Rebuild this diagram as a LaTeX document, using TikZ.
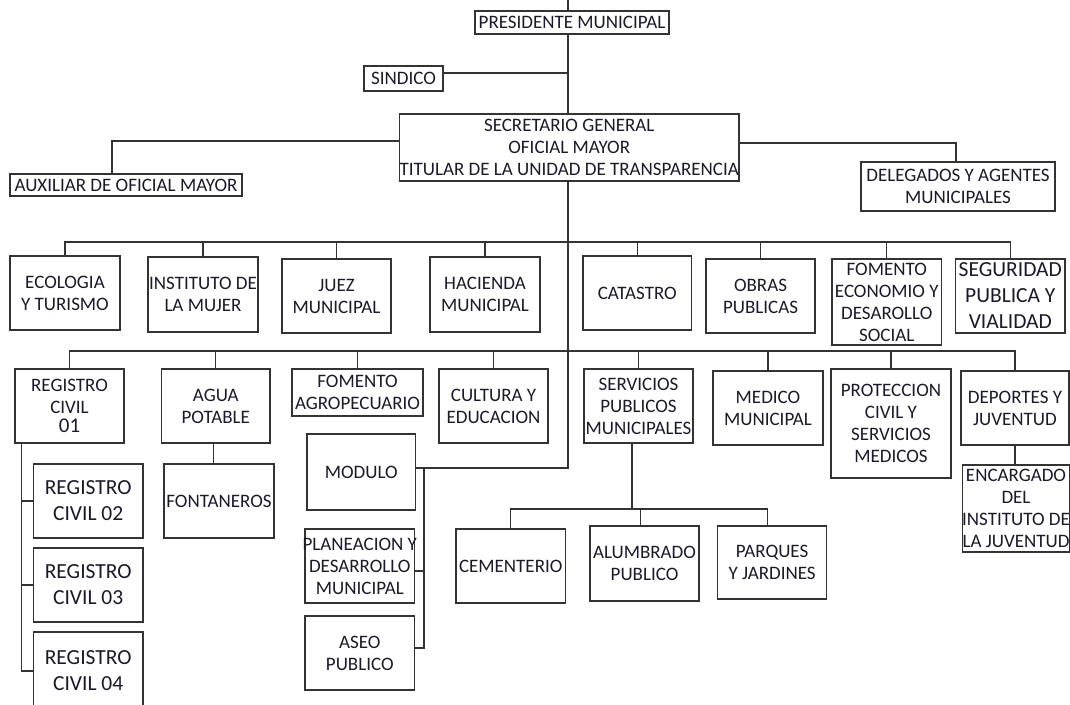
\documentclass[tikz,border=0pt]{standalone}
\usepackage{fontspec}
\setmainfont{Carlito}
\definecolor{ln}{HTML}{333333}
\definecolor{tx}{HTML}{1A1A2A}
\tikzset{
  box/.style={draw=ln, line width=1.2pt, inner sep=0pt, align=center, fill=white,
    text=tx, font=\fontsize{19}{22}\selectfont},
  bigbox/.style={box, font=\fontsize{21.5}{26}\selectfont},
  conn/.style={draw=ln, line width=1.2pt},
}
\newcommand{\bx}[6][box]{\node[#1, minimum width=#4pt, minimum height=#5pt] (#2) at #3 {#6};}
\newcommand{\ov}[1]{\makebox[0pt]{#1}}
\begin{document}
\begin{tikzpicture}[x=1pt,y=-1pt]
\useasboundingbox[fill=white] (0,0) rectangle (1070,704);
% top level
\bx{pres}{(572,22.5)}{194}{23}{PRESIDENTE MUNICIPAL}
\bx{sind}{(403.5,78.5)}{79}{25}{SINDICO}
\bx{sec}{(569.25,147.5)}{339.5}{67}{SECRETARIO GENERAL\\OFICIAL MAYOR\\\ov{TITULAR DE LA UNIDAD DE TRANSPARENCIA}}
\bx{aux}{(126,185)}{232}{22}{AUXILIAR DE OFICIAL MAYOR}
\bx{del}{(958,186.5)}{194}{49}{DELEGADOS Y AGENTES\\MUNICIPALES}
% row 1
\bx{ecol}{(65,293)}{110}{74}{ECOLOGIA\\Y TURISMO}
\bx{inst}{(203,294.5)}{110}{75}{INSTITUTO DE\\LA MUJER}
\bx{juez}{(336.5,296)}{109}{74}{JUEZ\\MUNICIPAL}
\bx{haci}{(485,294.5)}{110}{75}{HACIENDA\\MUNICIPAL}
\bx{cata}{(637.25,293)}{108.5}{74}{CATASTRO}
\bx{obra}{(760.5,296)}{109}{74}{OBRAS\\PUBLICAS}
\bx{fome}{(886.75,302)}{109.5}{86}{FOMENTO\\ECONOMIO Y\\DESAROLLO\\SOCIAL}
\bx[bigbox]{segu}{(1010.3,296)}{109.4}{74}{SEGURIDAD\\PUBLICA Y\\VIALIDAD}
% row 2
\bx{rc1}{(69.5,406)}{109}{74}{REGISTRO\\CIVIL\\[-3pt]{\fontsize{21}{22}\selectfont 01}}
\bx{agua}{(215.75,406)}{108.5}{74}{AGUA\\POTABLE}
\bx{agro}{(357.5,392.5)}{131}{47}{FOMENTO\\AGROPECUARIO}
\bx{cult}{(493.5,406)}{109}{74}{CULTURA Y\\EDUCACION}
\bx{serv}{(638.5,406)}{109}{74}{SERVICIOS\\PUBLICOS\\MUNICIPALES}
\bx{medi}{(768,408)}{110}{74}{MEDICO\\MUNICIPAL}
\bx{prot}{(891,423.5)}{120}{109}{PROTECCION\\CIVIL Y\\SERVICIOS\\MEDICOS}
\bx{depo}{(1015,408)}{108}{74}{DEPORTES Y\\JUVENTUD}
% lower
\bx{enca}{(1016,508.5)}{106}{87}{ENCARGADO\\DEL\\\ov{INSTITUTO DE}\\LA JUVENTUD}
\bx[bigbox]{rc2}{(88.2,501)}{109.6}{74}{REGISTRO\\CIVIL 02}
\bx[bigbox]{rc3}{(88.2,585)}{109.6}{74}{REGISTRO\\CIVIL 03}
\bx[bigbox]{rc4}{(88.2,671)}{109.6}{78}{REGISTRO\\CIVIL 04}
\bx{font}{(219,501)}{110}{74}{FONTANEROS}
\bx{modu}{(361.3,472)}{108.6}{76}{MODULO}
\bx{plan}{(359.8,566)}{109.6}{74}{\ov{PLANEACION Y}\\DESARROLLO\\MUNICIPAL}
\bx{aseo}{(359.8,653)}{109.6}{74}{ASEO\\PUBLICO}
\bx{cem}{(510.75,566)}{109.5}{74}{CEMENTERIO}
\bx{alum}{(644.5,563.5)}{109}{75}{ALUMBRADO\\PUBLICO}
\bx{parq}{(772.1,562.5)}{108.8}{73}{PARQUES\\Y JARDINES}
% coordinates
\coordinate (top) at (568,0);
\coordinate (b1) at (568,242);
\coordinate (b2) at (568,351);
\coordinate (mv) at (424,468);
\coordinate (sb) at (632,509);
\path ([yshift=5.5pt]sind.east) coordinate (sa);
\path ([yshift=6.5pt]sec.west) coordinate (sl);
\path ([yshift=4.5pt]sec.east) coordinate (sr);
\path ([xshift=7pt]rc1.south west) coordinate (rcv);
% connectors
\begin{scope}[conn]
\draw (top) -- (top |- pres.north);
\draw (pres.south -| top) -- (sec.north -| top);
\draw (sa) -- (sa -| top);
\draw (sl) -| ([xshift=-14pt]aux.north);
\draw (sr) -| ([xshift=-2pt]del.north);
\draw (sec.south -| top) |- ([yshift=4pt]modu.east);
\foreach \n in {ecol,inst,juez,haci,cata,obra,fome,segu} \draw (\n.north) |- (b1);
\foreach \n in {rc1,agua,agro,cult,serv,medi,prot,depo} \draw (\n.north) |- (b2);
\draw (rcv) |- (rc4.west);
\draw (rc2.west) -- (rc2.west -| rcv);
\draw (rc3.west) -- (rc3.west -| rcv);
\draw ([xshift=-2pt]agua.south) -- ([xshift=-2pt]agua.south |- font.north);
\draw (mv) |- ([yshift=5pt]aseo.east);
\draw ([yshift=-5pt]plan.east) -- ([yshift=-5pt]plan.east -| mv);
\draw ([xshift=-6.5pt]serv.south) -- (sb);
\draw (cem.north) |- (sb);
\draw ([xshift=-4pt]alum.north) |- (sb);
\draw ([xshift=-5pt]parq.north) |- (sb);
\draw (depo.south) -- (depo.south |- enca.north);
\end{scope}
\end{tikzpicture}
\end{document}
